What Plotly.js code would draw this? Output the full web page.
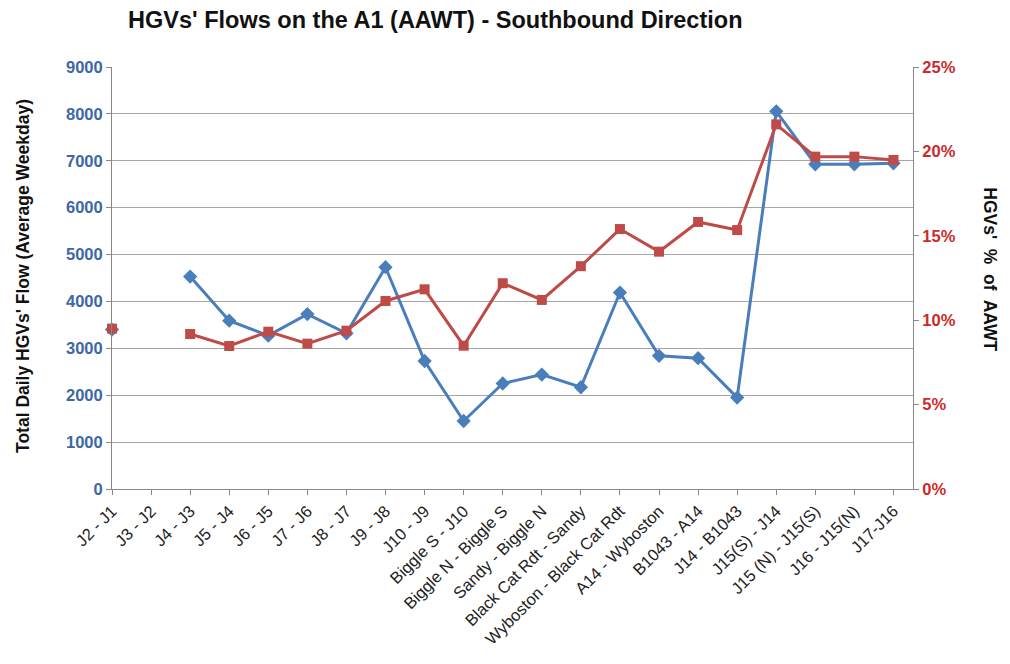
<!DOCTYPE html>
<html>
<head>
<meta charset="utf-8">
<script src="https://cdn.plot.ly/plotly-3.0.1.min.js"></script>
<style>html,body{margin:0;padding:0;background:#fff;}#chart{width:1010px;height:664px;}</style>
</head>
<body>
<div id="chart"></div>
<script>
const categories = ["J2 - J1","J3 - J2","J4 - J3","J5 - J4","J6 - J5","J7 - J6","J8 - J7","J9 - J8","J10 - J9","Biggle S - J10","Biggle N - Biggle S","Sandy - Biggle N","Black Cat Rdt - Sandy","Wyboston - Black Cat Rdt","A14 - Wyboston","B1043 - A14","J14 - B1043","J15(S) - J14","J15 (N) - J15(S)","J16 - J15(N)","J17-J16"];
const hgvFlow = [3400, null, 4530, 3590, 3270, 3730, 3320, 4730, 2730, 1450, 2250, 2440, 2170, 4190, 2840, 2790, 1950, 8055, 6925, 6925, 6945];
const hgvPercent = [9.5, null, 9.18, 8.47, 9.32, 8.61, 9.38, 11.14, 11.83, 8.49, 12.19, 11.2, 13.2, 15.4, 14.06, 15.82, 15.34, 21.6, 19.69, 19.69, 19.49];
const leftTicks = [0,1000,2000,3000,4000,5000,6000,7000,8000,9000];
const rightTicks = [0,5,10,15,20,25];

const FONT = "Liberation Sans, Arial, Helvetica, sans-serif";
const BLUE = "#4a7ebb", RED = "#be4b48";

const traces = [
  {x: categories, y: hgvFlow, type: "scatter", mode: "lines+markers", name: "HGVs' Flow",
   line: {color: BLUE, width: 3}, marker: {symbol: "diamond", size: 11, color: BLUE},
   connectgaps: false, yaxis: "y", cliponaxis: false},
  {x: categories, y: hgvPercent, type: "scatter", mode: "lines+markers", name: "HGVs' %",
   line: {color: RED, width: 3}, marker: {symbol: "square", size: 10, color: RED},
   connectgaps: false, yaxis: "y2", cliponaxis: false}
];

const layout = {
  width: 1010, height: 664,
  margin: {l: 112, r: 97, t: 67, b: 175},
  paper_bgcolor: "#fff", plot_bgcolor: "#fff",
  showlegend: false,
  font: {family: FONT},
  title: {text: "HGVs' Flows on the A1 (AAWT) - Southbound Direction",
          font: {family: FONT, size: 23.5, color: "#111", weight: "bold"},
          x: 0.431, xref: "container", xanchor: "center", y: 0.97, yref: "container", yanchor: "middle"},
  xaxis: {type: "category", range: [0, 20.5], tickangle: -45,
          tickfont: {family: FONT, size: 16.5, color: "#222"},
          showgrid: false, showline: true, linecolor: "#888", linewidth: 1,
          ticks: "outside", ticklen: 5, tickcolor: "#888", zeroline: false},
  yaxis: {range: [0, 9000], tickvals: leftTicks, ticktext: leftTicks.map(String),
          tickfont: {family: FONT, size: 16.5, color: "#3d68a3", weight: "bold"},
          showgrid: true, gridcolor: "#a6a6a6", gridwidth: 1,
          showline: true, linecolor: "#888", linewidth: 1,
          ticks: "outside", ticklen: 5, tickcolor: "#888", zeroline: false},
  yaxis2: {range: [0, 25], overlaying: "y", side: "right",
           tickvals: rightTicks, ticktext: rightTicks.map(v => v + "%"),
           tickfont: {family: FONT, size: 16.5, color: "#cc2a2a", weight: "bold"},
           showgrid: false, showline: true, linecolor: "#888", linewidth: 1,
           ticks: "outside", ticklen: 5, tickcolor: "#888", zeroline: false},
  annotations: [
    {text: "Total Daily HGVs' Flow (Average Weekday)", textangle: -90, xref: "paper", yref: "paper",
     x: -0.111, y: 0.505, xanchor: "center", yanchor: "middle", showarrow: false,
     font: {family: FONT, size: 17.5, color: "#111", weight: "bold"}},
    {text: "HGVs'  %  of  AAWT", textangle: 90, xref: "paper", yref: "paper",
     x: 1.096, y: 0.521, xanchor: "center", yanchor: "middle", showarrow: false,
     font: {family: FONT, size: 17.5, color: "#111", weight: "bold"}}
  ]
};

Plotly.newPlot("chart", traces, layout, {displayModeBar: false, staticPlot: true});
</script>
</body>
</html>
